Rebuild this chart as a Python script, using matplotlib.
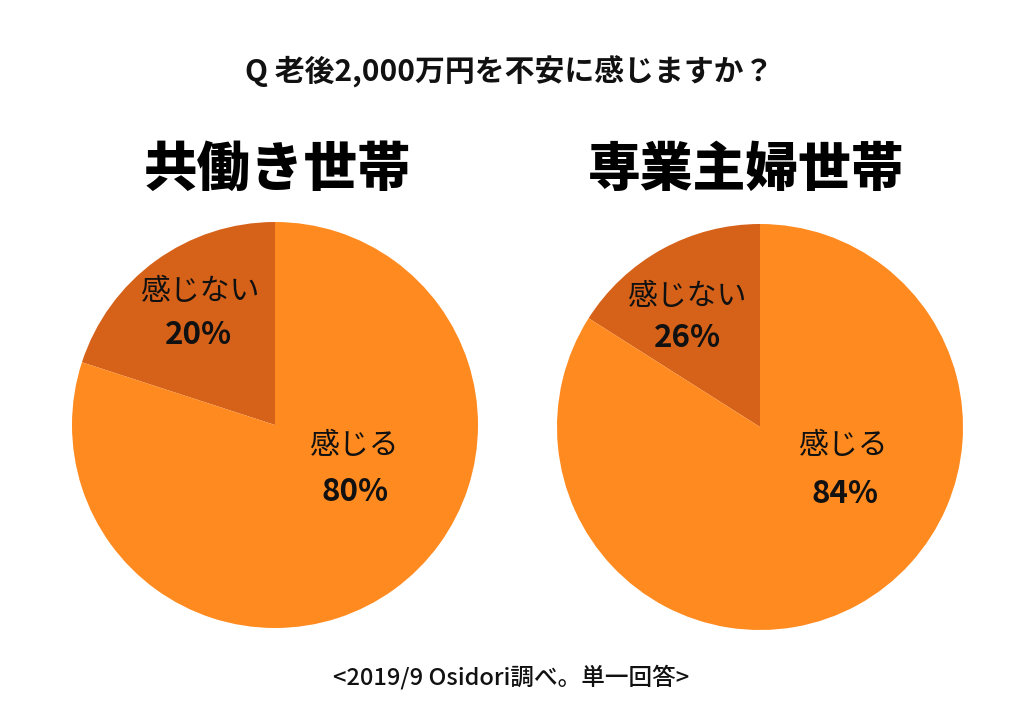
import matplotlib
matplotlib.use("Agg")
import matplotlib.pyplot as plt

plt.rcParams['font.family'] = ['Noto Sans CJK JP', 'DejaVu Sans']

title = "Q 老後2,000万円を不安に感じますか？"
footer = "<2019/9 Osidori調べ。単一回答>"
groups = ["共働き世帯", "専業主婦世帯"]
categories = ["感じない", "感じる"]
values_dual = [20, 80]
values_single = [16, 84]
labels_dual = ["20%", "80%"]
labels_single = ["26%", "84%"]

colors = ["#D6621A", "#FF8A1F"]

W, H = 1024, 727
fig = plt.figure(figsize=(W / 100, H / 100), dpi=100)
fig.patch.set_facecolor("white")

def px_axes(cx, cy, r):
    return fig.add_axes([(cx - r) / W, (H - cy - r) / H, 2 * r / W, 2 * r / H])

panels = [
    dict(cx=275, cy=425, r=203, vals=values_dual, labs=labels_dual, name=groups[0], hx=277, hs=38.5,
         pos=[(200, 292, 198, 335), (354, 446, 355, 492)]),
    dict(cx=760, cy=427, r=203, vals=values_single, labs=labels_single, name=groups[1], hx=746, hs=38,
         pos=[(687, 296, 687, 338), (843, 446, 845, 494)]),
]

for p in panels:
    ax = px_axes(p["cx"], p["cy"], p["r"])
    ax.pie(p["vals"], colors=colors, startangle=90, counterclock=True, radius=1,
           wedgeprops=dict(linewidth=0))
    ax.set_xlim(-1, 1)
    ax.set_ylim(-1, 1)
    ax.set_aspect("equal")
    ax.axis("off")
    for (tx, ty, vx, vy), cat, lab in zip(p["pos"], categories, p["labs"]):
        fig.text(tx / W, 1 - ty / H, cat, ha="center", va="center", fontsize=21.5,
                 color="#111111")
        fig.text(vx / W, 1 - vy / H, lab, ha="center", va="center", fontsize=22.5,
                 fontweight="bold", color="#111111")
    fig.text(p["hx"] / W, 1 - 170 / H, p["name"], ha="center", va="center",
             fontsize=p["hs"], fontweight="black", color="#000000")

fig.text(509 / W, 1 - 72 / H, title, ha="center", va="center", fontsize=21.5,
         fontweight="bold", color="#111111")
fig.text(511 / W, 1 - 677 / H, footer, ha="center", va="center", fontsize=17,
         fontweight="medium", color="#111111")

fig.savefig("out.png", dpi=100, facecolor="white")
